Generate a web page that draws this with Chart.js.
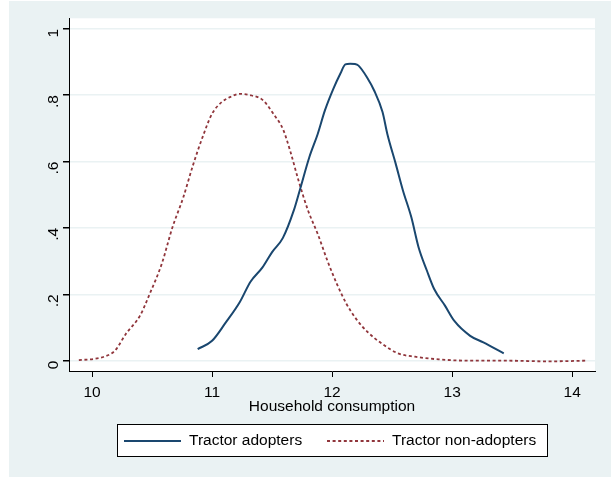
<!DOCTYPE html>
<html>
<head>
<meta charset="utf-8">
<script src="https://cdn.jsdelivr.net/npm/chart.js@4/dist/chart.umd.min.js"></script>
<style>
  html, body { margin: 0; padding: 0; background: #fff; }
  #wrap { width: 613px; height: 479px; position: relative; }
</style>
</head>
<body>
<div id="wrap"><canvas id="graph"></canvas></div>
<script>
// kernel density estimates
var g_adoptersX = [10.88, 11.0, 11.11, 11.23, 11.32, 11.42, 11.5, 11.59, 11.68, 11.73, 11.81, 11.88, 11.94, 12.01, 12.07, 12.11, 12.15, 12.19, 12.22, 12.29, 12.35, 12.42, 12.46, 12.53, 12.59, 12.66, 12.72, 12.79, 12.85, 12.94, 13.02, 13.15, 13.26, 13.43];
var g_adoptersY = [0.035, 0.06, 0.113, 0.176, 0.238, 0.281, 0.327, 0.37, 0.452, 0.513, 0.613, 0.683, 0.754, 0.819, 0.866, 0.893, 0.895, 0.894, 0.889, 0.854, 0.814, 0.749, 0.683, 0.593, 0.513, 0.432, 0.342, 0.271, 0.216, 0.166, 0.119, 0.075, 0.055, 0.022];
var g_nonAdoptersX = [9.89, 10.01, 10.1, 10.19, 10.28, 10.4, 10.48, 10.58, 10.67, 10.76, 10.84, 10.92, 11.0, 11.08, 11.16, 11.23, 11.33, 11.42, 11.52, 11.59, 11.65, 11.72, 11.8, 11.88, 11.96, 12.04, 12.12, 12.2, 12.3, 12.42, 12.55, 12.69, 12.89, 13.15, 13.47, 13.8, 14.11];
var g_nonAdoptersY = [0.002, 0.005, 0.012, 0.03, 0.08, 0.136, 0.201, 0.291, 0.402, 0.492, 0.588, 0.673, 0.744, 0.779, 0.796, 0.804, 0.799, 0.786, 0.739, 0.698, 0.633, 0.543, 0.452, 0.382, 0.302, 0.231, 0.171, 0.126, 0.085, 0.05, 0.022, 0.012, 0.004, 0.0, 0.0, -0.002, 0.0];
var g_yTickLabels = {"0": "0", "0.2": ".2", "0.4": ".4", "0.6": ".6", "0.8": ".8", "1": "1"};
var g_xTitle = "Household consumption";

var g_blue = "#1a476f";
var g_red = "#90353b";
var g_outerBg = "#eaf2f3";
var g_font = "'Liberation Sans', Arial, sans-serif";
var g_fontSize = 15.5;

function toPoints(xs, ys) {
    var pts = [];
    for (var i = 0; i < xs.length; i++) {
        pts.push({ x: xs[i], y: ys[i] });
    }
    return pts;
}

var backgroundPlugin = {
    id: "stataBackground",
    beforeDraw: function (chart) {
        var ctx = chart.ctx;
        var a = chart.chartArea;
        ctx.save();
        ctx.fillStyle = "#ffffff";
        ctx.fillRect(0, 0, chart.width, chart.height);
        ctx.fillStyle = g_outerBg;
        ctx.fillRect(9, 1, chart.width - 11, chart.height - 3);
        ctx.fillStyle = "#ffffff";
        ctx.fillRect(a.left, a.top, a.right - a.left, a.bottom - a.top);
        ctx.restore();
    }
};

// x title and boxed legend, stata style
var legendPlugin = {
    id: "stataLegend",
    afterDraw: function (chart) {
        var ctx = chart.ctx;
        var a = chart.chartArea;
        ctx.save();
        ctx.font = g_fontSize + "px " + g_font;
        ctx.fillStyle = "#000000";
        ctx.textAlign = "center";
        ctx.textBaseline = "middle";
        ctx.fillText(g_xTitle, (a.left + a.right) / 2, 407);

        var boxLeft = 117, boxTop = 424, boxW = 430, boxH = 32;
        var midY = boxTop + boxH / 2 + 1;
        ctx.fillStyle = "#ffffff";
        ctx.fillRect(boxLeft, boxTop, boxW, boxH);
        ctx.strokeStyle = "#000000";
        ctx.lineWidth = 1;
        ctx.strokeRect(boxLeft + 0.5, boxTop + 0.5, boxW, boxH);
        var entries = [
            { ds: chart.data.datasets[0], x: 124 },
            { ds: chart.data.datasets[1], x: 327 }
        ];
        ctx.textAlign = "left";
        entries.forEach(function (e) {
            ctx.strokeStyle = e.ds.borderColor;
            ctx.lineWidth = e.ds.borderWidth;
            ctx.setLineDash(e.ds.borderDash || []);
            ctx.beginPath();
            ctx.moveTo(e.x, midY);
            ctx.lineTo(e.x + 57, midY);
            ctx.stroke();
            ctx.setLineDash([]);
            ctx.fillStyle = "#000000";
            ctx.fillText(e.ds.label, e.x + 65, midY);
        });
        ctx.restore();
    }
};

var ctx = document.getElementById("graph").getContext("2d");
var g_chart = new Chart(ctx, {
    type: "scatter",
    data: {
        datasets: [{
            label: "Tractor adopters",
            data: toPoints(g_adoptersX, g_adoptersY),
            showLine: true,
            borderColor: g_blue,
            borderWidth: 2,
            pointRadius: 0,
            cubicInterpolationMode: "monotone"
        }, {
            label: "Tractor non-adopters",
            data: toPoints(g_nonAdoptersX, g_nonAdoptersY),
            showLine: true,
            borderColor: g_red,
            borderWidth: 1.8,
            borderDash: [3, 2.6],
            pointRadius: 0,
            cubicInterpolationMode: "monotone"
        }]
    },
    options: {
        responsive: true,
        maintainAspectRatio: false,
        animation: false,
        layout: { padding: { top: 18, right: 18, left: 0, bottom: 0 } },
        plugins: {
            legend: { display: false },
            tooltip: { enabled: false }
        },
        scales: {
            x: {
                type: "linear",
                min: 9.808,
                max: 14.19,
                afterFit: function (scale) { scale.height = 108; },
                ticks: {
                    stepSize: 1,
                    includeBounds: false,
                    color: "#000000",
                    font: { family: g_font, size: g_fontSize },
                    padding: 6,
                    maxRotation: 0
                },
                grid: {
                    drawOnChartArea: false,
                    drawTicks: true,
                    tickLength: 6,
                    tickColor: "#000000"
                },
                border: { display: true, color: "#000000", width: 1 }
            },
            y: {
                type: "linear",
                min: -0.031,
                max: 1.0316,
                afterFit: function (scale) { scale.width = 69; },
                ticks: {
                    stepSize: 0.2,
                    includeBounds: false,
                    color: "#000000",
                    font: { family: g_font, size: g_fontSize },
                    minRotation: 90,
                    maxRotation: 90,
                    padding: 9,
                    callback: function (v) {
                        var key = String(Math.round(v * 10) / 10);
                        return g_yTickLabels[key] !== undefined ? g_yTickLabels[key] : "";
                    }
                },
                grid: {
                    color: g_outerBg,
                    lineWidth: 1.5,
                    tickLength: 6,
                    tickColor: "#000000"
                },
                border: { display: true, color: "#000000", width: 1 }
            }
        }
    },
    plugins: [backgroundPlugin, legendPlugin]
});
</script>
</body>
</html>
